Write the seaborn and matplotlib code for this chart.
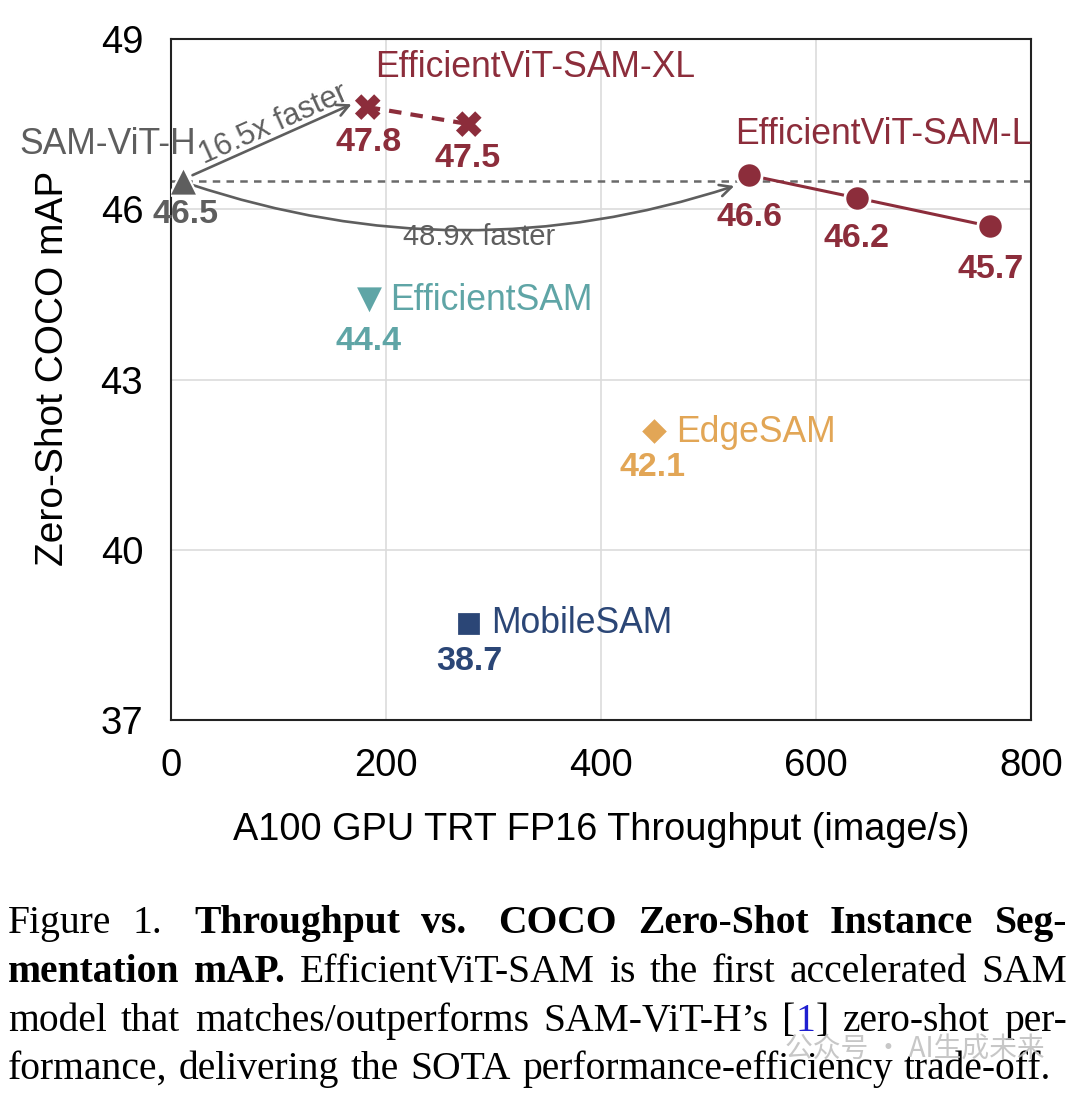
import matplotlib
matplotlib.use("Agg")
import matplotlib.pyplot as plt
import seaborn as sns
import numpy as np
import pandas as pd

# ---------------- data ----------------
sam_x = [11]
sam_y = [46.5]
xl_x = [183, 277]
xl_y = [47.8, 47.5]
l_x = [538, 638, 762]
l_y = [46.6, 46.2, 45.7]
esam_x = [184]
esam_y = [44.4]
edge_x = [449]
edge_y = [42.1]
mobile_x = [277]
mobile_y = [38.7]

x_ticks = [0, 200, 400, 600, 800]
y_ticks = [37, 40, 43, 46, 49]

# ---------------- style ----------------
sns.set_theme(style="whitegrid")
plt.rcParams["font.family"] = ["Liberation Sans", "DejaVu Sans"]

RED = "#8C2D3B"
GRAY = "#5E5E5E"
TEAL = "#5FA5A6"
ORANGE = "#E2A656"
NAVY = "#2B4676"

W, H = 1080, 1093
fig = plt.figure(figsize=(W / 100, H / 100), dpi=100)
ax = fig.add_axes([171 / W, 1 - 720 / H, 860 / W, 681 / H])

ax.set_xlim(0, 800)
ax.set_ylim(37, 49)
ax.set_xticks(x_ticks)
ax.set_yticks(y_ticks)
ax.tick_params(axis="both", length=0, labelsize=27.5, pad=20, labelcolor="black")
ax.grid(True, color="#DCDCDC", linewidth=1.2)
for sp in ax.spines.values():
    sp.set_visible(True)
    sp.set_color("#222222")
    sp.set_linewidth(1.5)

ax.set_xlabel("A100 GPU TRT FP16 Throughput (image/s)", fontsize=27.3, color="black")
ax.set_ylabel("Zero-Shot COCO mAP", fontsize=28, color="black")
ax.xaxis.label.set_va("center")
ax.yaxis.label.set_va("center")
ax.xaxis.set_label_coords(0.5, -0.1615)
ax.yaxis.set_label_coords(-0.137, 0.517)

# baseline dashed line
ax.axhline(sam_y[0], color="#6A6A6A", linewidth=1.8, dashes=(3, 2.5), zorder=2)

# lines
sns.lineplot(x=xl_x, y=xl_y, ax=ax, color=RED, linewidth=3, zorder=3)
ax.lines[-1].set_dashes((3.0, 2.2))
sns.lineplot(x=l_x, y=l_y, ax=ax, color=RED, linewidth=2.2, zorder=3)

# markers
sns.scatterplot(x=sam_x, y=sam_y, ax=ax, marker="^", s=420, color=GRAY,
                edgecolor="white", linewidth=1.6, zorder=5)
sns.scatterplot(x=xl_x, y=xl_y, ax=ax, marker="X", s=340, color=RED,
                edgecolor="none", linewidth=0, zorder=5)
sns.scatterplot(x=l_x, y=l_y, ax=ax, marker="o", s=330, color=RED,
                edgecolor="white", linewidth=2.0, zorder=5)
sns.scatterplot(x=esam_x, y=esam_y, ax=ax, marker="v", s=420, color=TEAL,
                edgecolor="white", linewidth=1.6, zorder=5)
sns.scatterplot(x=edge_x, y=edge_y, ax=ax, marker="D", s=200, color=ORANGE,
                edgecolor="white", linewidth=1.6, zorder=5)
sns.scatterplot(x=mobile_x, y=mobile_y, ax=ax, marker="s", s=320, color=NAVY,
                edgecolor="white", linewidth=1.6, zorder=5)

PX = 72 / 100.0  # px -> points


def label(xy, txt, dx, dy, color, bold=False, ha="center", size=24.5):
    ax.annotate(txt, xy=xy, xytext=(dx * PX, dy * PX), textcoords="offset points",
                ha=ha, va="center", fontsize=size, color=color,
                fontweight="bold" if bold else "normal", zorder=6,
                annotation_clip=False)


# value labels
label((sam_x[0], sam_y[0]), f"{sam_y[0]}", 3, -34, GRAY, bold=True)
label((xl_x[0], xl_y[0]), f"{xl_y[0]}", 1, -35, RED, bold=True)
label((xl_x[1], xl_y[1]), f"{xl_y[1]}", -1, -34, RED, bold=True)
for xv, yv, dy in zip(l_x, l_y, [-42, -41, -43]):
    label((xv, yv), f"{yv}", 0, dy, RED, bold=True)
label((esam_x[0], esam_y[0]), f"{esam_y[0]}", 0, -41, TEAL, bold=True)
label((edge_x[0], edge_y[0]), f"{edge_y[0]}", -1, -37, ORANGE, bold=True)
label((mobile_x[0], mobile_y[0]), f"{mobile_y[0]}", 1, -38, NAVY, bold=True)

# name labels
NS = 25.6
label((sam_x[0], sam_y[0]), "SAM-ViT-H", 13, 36, GRAY, ha="right", size=NS)
label((xl_x[0], xl_y[0]), "EfficientViT-SAM-XL", 167, 40, RED, size=NS)
label((l_x[0], l_y[0]), "EfficientViT-SAM-L", 134, 41, RED, size=NS)
label((esam_x[0], esam_y[0]), "EfficientSAM", 21, 0, TEAL, ha="left", size=NS)
label((edge_x[0], edge_y[0]), "EdgeSAM", 22, -2, ORANGE, ha="left", size=NS)
label((mobile_x[0], mobile_y[0]), "MobileSAM", 22, 0, NAVY, ha="left", size=NS)

# speed-up arrows
ax.annotate("", xy=(168, 47.85), xytext=(20, 46.6),
            arrowprops=dict(arrowstyle="->,head_length=0.7,head_width=0.35",
                            color=GRAY, lw=1.9, shrinkA=0, shrinkB=0), zorder=4)
ax.annotate("", xy=(524, 46.41), xytext=(18, 46.44),
            arrowprops=dict(arrowstyle="->,head_length=0.7,head_width=0.35",
                            color=GRAY, lw=1.9, shrinkA=0, shrinkB=0,
                            connectionstyle="arc3,rad=0.165"), zorder=4)
ax.text(95, 47.5, "16.5x faster", rotation=24, rotation_mode="anchor",
        ha="center", va="center", fontsize=22, color=GRAY, zorder=6)
ax.text(287, 45.51, "48.9x faster", ha="center", va="center", fontsize=21,
        color=GRAY, zorder=6)

# ---------------- caption ----------------
renderer = fig.canvas.get_renderer()
CFS = 28.5
SERIF = ["Liberation Serif", "DejaVu Serif"]


def measure(s, weight):
    t = fig.text(0, 0, s, fontsize=CFS, family=SERIF, fontweight=weight)
    w = t.get_window_extent(renderer).width
    t.remove()
    return w


space_px = 0.25 * CFS * 100 / 72

caption_lines = [
    ([[("Figure", "normal", "black")], [("1.", "normal", "black")],
      [("Throughput", "bold", "black")], [("vs.", "bold", "black")],
      [("COCO", "bold", "black")], [("Zero-Shot", "bold", "black")],
      [("Instance", "bold", "black")], [("Seg-", "bold", "black")]], {1: 1.0, 3: 1.0}, True),
    ([[("mentation", "bold", "black")], [("mAP.", "bold", "black")],
      [("EfficientViT-SAM", "normal", "black")], [("is", "normal", "black")],
      [("the", "normal", "black")], [("first", "normal", "black")],
      [("accelerated", "normal", "black")], [("SAM", "normal", "black")]], {}, True),
    ([[("model", "normal", "black")], [("that", "normal", "black")],
      [("matches/outperforms", "normal", "black")], [("SAM-ViT-H\u2019s", "normal", "black")],
      [("[", "normal", "black"), ("1", "normal", "#1f1fd0"), ("]", "normal", "black")],
      [("zero-shot", "normal", "black")], [("per-", "normal", "black")]], {}, True),
    ([[("formance,", "normal", "black")], [("delivering", "normal", "black")],
      [("the", "normal", "black")], [("SOTA", "normal", "black")],
      [("performance-efficiency", "normal", "black")], [("trade-off.", "normal", "black")]], {}, False),
]
baselines = [933, 982, 1031, 1079]
X0, X1 = 8, 1067

for (tokens, extra, justify), yb in zip(caption_lines, baselines):
    widths = [[measure(s, wgt) for (s, wgt, c) in tok] for tok in tokens]
    tot = sum(sum(w) for w in widths)
    n_gaps = len(tokens) - 1
    extra_px = sum(extra.values()) * space_px
    if justify:
        gap = (X1 - X0 - tot - extra_px) / n_gaps
    else:
        gap = space_px * 1.15
    x = X0
    for i, (tok, ws) in enumerate(zip(tokens, widths)):
        for (s, wgt, c), w in zip(tok, ws):
            fig.text(x / W, 1 - yb / H, s, fontsize=CFS, family=SERIF, fontweight=wgt,
                     color=c, ha="left", va="baseline")
            x += w
        x += gap + extra.get(i, 0) * space_px

# watermark
fig.text(785 / W, 1 - 1050 / H, "公众号 · AI生成未来", fontsize=20,
         family=["Noto Sans CJK SC", "DejaVu Sans"], color="#BDBDBD",
         ha="left", va="center", alpha=0.85)

fig.savefig("out.png", dpi=100)
